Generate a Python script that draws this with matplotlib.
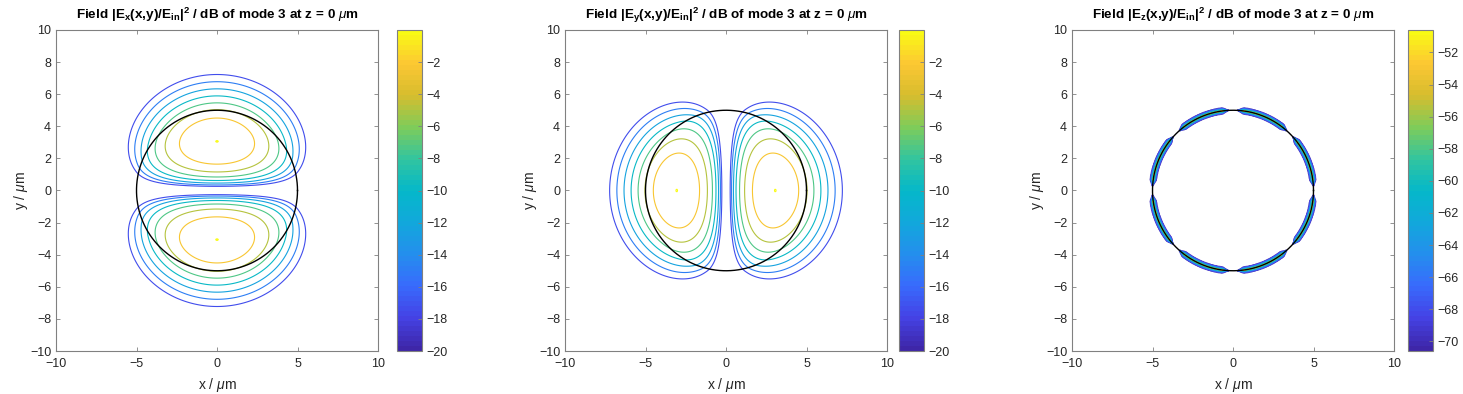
import numpy as np
import matplotlib
matplotlib.use("Agg")
import matplotlib.pyplot as plt
from matplotlib.colors import LinearSegmentedColormap, Normalize
from matplotlib.cm import ScalarMappable

plt.rcParams['font.family'] = ['Liberation Sans', 'DejaVu Sans']
plt.rcParams['mathtext.fontset'] = 'custom'
plt.rcParams['mathtext.rm'] = 'Liberation Sans'
plt.rcParams['mathtext.it'] = 'Liberation Sans:italic'
plt.rcParams['mathtext.bf'] = 'Liberation Sans:bold'

# mode / fibre parameters
core_radius = 5.0          # black circle, um
u_core = 3.07              # peak of lobes at ~3 um
w_clad = 2.85              # outer -17.5 dB contour at ~7.2 um
stretch_lat = 1.05         # lobes a bit wider than a pure LP11 lobe
stretch_rad = 1.02
dyn_range = 20.0           # dB shown below the maximum

ex_levels = [-17.5, -15, -12.5, -10, -7.5, -5, -2.5, -0.003]
ey_levels = [-17.5, -15, -12.5, -10, -7.5, -5, -2.5, -0.003]
ez_levels = [-70, -69, -68, -67, -66, -65, -64, -63, -62, -61, -60,
             -59, -58, -57, -56, -55, -54, -53, -52, -51]
ez_peak = -50.6
ez_decay = 0.04            # radial decay of |Ez| around the core edge, um
ez_gap = 0.5               # |sin 4phi| below which the ring fades out

cb_ticks_xy = [-20, -18, -16, -14, -12, -10, -8, -6, -4, -2]
cb_ticks_z = [-70, -68, -66, -64, -62, -60, -58, -56, -54, -52]
axis_ticks = [-10, -8, -6, -4, -2, 0, 2, 4, 6, 8, 10]
x_ticks = [-10, -5, 0, 5, 10]

titles = [r'Field |E$_\mathbf{x}$(x,y)/E$_\mathbf{in}$|$^\mathbf{2}$ / dB of mode 3 at z = 0 $\mu$m',
          r'Field |E$_\mathbf{y}$(x,y)/E$_\mathbf{in}$|$^\mathbf{2}$ / dB of mode 3 at z = 0 $\mu$m',
          r'Field |E$_\mathbf{z}$(x,y)/E$_\mathbf{in}$|$^\mathbf{2}$ / dB of mode 3 at z = 0 $\mu$m']

# parula-like colormap (as seen on the colour bars)
parula = [(0.242, 0.150, 0.660), (0.270, 0.260, 0.900), (0.220, 0.420, 0.990),
          (0.140, 0.560, 0.930), (0.070, 0.660, 0.860), (0.020, 0.720, 0.790),
          (0.200, 0.770, 0.620), (0.500, 0.800, 0.350), (0.840, 0.740, 0.180),
          (0.990, 0.780, 0.200), (0.977, 0.984, 0.080)]
cmap = LinearSegmentedColormap.from_list('parula', parula, N=64)


def j1(x):
    tau = np.linspace(0, np.pi, 401)
    return np.trapezoid(np.cos(tau[None, :] - x[:, None]*np.sin(tau[None, :])), tau, axis=1)/np.pi


def k1(x):
    t = np.linspace(0, 8, 2001)
    return np.trapezoid(np.exp(-x[:, None]*np.cosh(t[None, :]))*np.cosh(t[None, :]), t, axis=1)


r1 = np.linspace(0, 15, 1501)
inside = j1(u_core*r1/core_radius)/j1(np.array([u_core]))[0]
outside = k1(w_clad*np.maximum(r1, core_radius)/core_radius)/k1(np.array([w_clad]))[0]
prof = np.where(r1 < core_radius, inside, outside)

g = np.linspace(-10, 10, 401)
X, Y = np.meshgrid(g, g)


def lobe_field(xs, ys):
    # odd in ys: two lobes on the ys axis
    r = np.hypot(xs, ys)
    return np.interp(r, r1, prof)*ys/np.maximum(r, 1e-9)


def to_db(E, top):
    a = np.abs(E)
    d = 20*np.log10(np.maximum(a/a.max(), 1e-12)) + top
    return np.maximum(d, top - dyn_range)


ex_db = to_db(lobe_field(X/stretch_lat, Y/stretch_rad), 0.0)
ey_db = to_db(lobe_field(Y/stretch_lat, X/stretch_rad), 0.0)
R = np.hypot(X, Y)
PHI = np.arctan2(Y, X)
ang = np.clip(np.abs(np.sin(4*PHI))/ez_gap, 0, 1)**2
ez_amp = ang*np.exp(-np.sqrt(np.abs(R - core_radius)/ez_decay))
ez_db = to_db(ez_amp, ez_peak)

fig = plt.figure(figsize=(14.63, 3.94), dpi=100)
bottom, height = 1 - 351/394, 321/394
ax_left = [56, 565, 1072]
cb_left = [397, 899, 1408]
fields = [ex_db, ey_db, ez_db]
levels = [ex_levels, ey_levels, ez_levels]
lws = [0.8, 0.8, 0.6]
norms = [Normalize(-20, 0), Normalize(-20, 0), Normalize(ez_peak - dyn_range, ez_peak)]
cbticks = [cb_ticks_xy, cb_ticks_xy, cb_ticks_z]
tcol = '#262626'
scol = '#808080'

t = np.linspace(0, 2*np.pi, 400)
for i in range(3):
    ax = fig.add_axes([ax_left[i]/1463, bottom, 322/1463, height])
    ax.contour(X, Y, fields[i], levels=levels[i], cmap=cmap, norm=norms[i], linewidths=lws[i])
    ax.plot(core_radius*np.cos(t), core_radius*np.sin(t), color='black', lw=1.0)
    ax.set_xlim(-10, 10)
    ax.set_ylim(-10, 10)
    ax.set_xticks(x_ticks)
    ax.set_yticks(axis_ticks)
    ax.tick_params(direction='in', top=True, right=True, length=3, width=0.6,
                   labelsize=9, colors=scol, labelcolor=tcol)
    ax.tick_params(axis='x', pad=5)
    for s in ax.spines.values():
        s.set_color(scol)
        s.set_linewidth(0.8)
    ax.set_xlabel(r'x / $\mu$m', fontsize=10, color=tcol, labelpad=4)
    ax.set_ylabel(r'y / $\mu$m', fontsize=10, color=tcol, labelpad=0)
    ax.set_title(titles[i], fontsize=9.7, fontweight='bold', color='black', pad=8)

    cax = fig.add_axes([cb_left[i]/1463, bottom, 25/1463, height])
    cb = fig.colorbar(ScalarMappable(norm=norms[i], cmap=cmap), cax=cax)
    cb.set_ticks(cbticks[i])
    cb.ax.tick_params(direction='in', length=3, width=0.6, labelsize=9,
                      colors=scol, labelcolor=tcol)
    cb.outline.set_edgecolor(scol)
    cb.outline.set_linewidth(0.8)

fig.savefig('out.png', dpi=100)
